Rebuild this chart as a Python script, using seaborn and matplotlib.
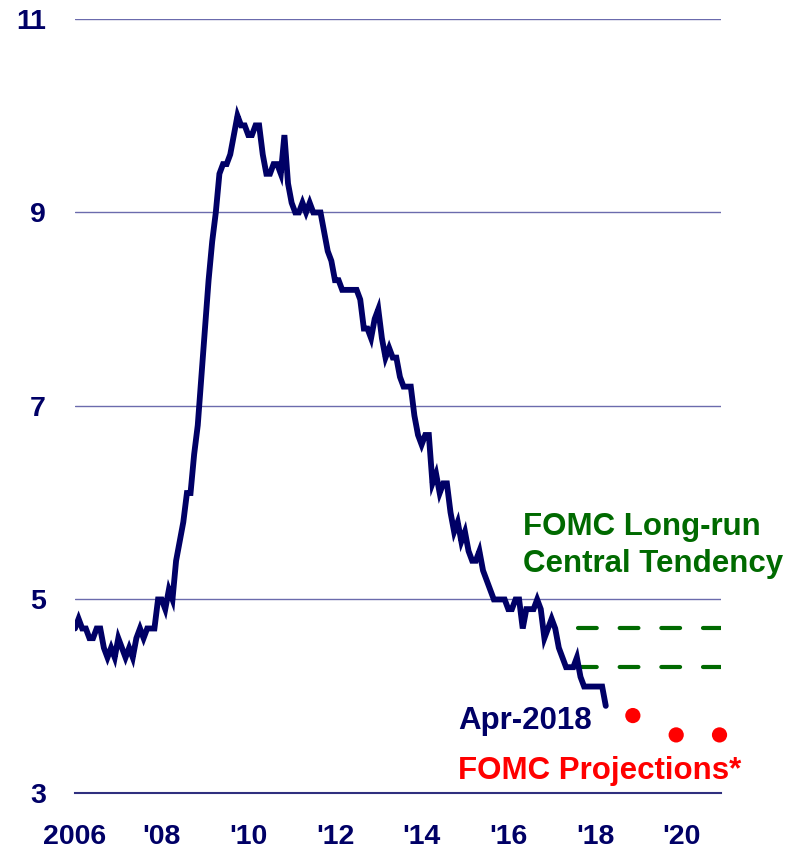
import numpy as np
import pandas as pd
import matplotlib
matplotlib.use("Agg")
import matplotlib.pyplot as plt
import seaborn as sns

# Civilian unemployment rate, monthly, Jan 2006 - Apr 2018 (percent)
unemployment = [
    4.7, 4.8, 4.7, 4.7, 4.6, 4.6, 4.7, 4.7, 4.5, 4.4, 4.5, 4.4,   # 2006
    4.6, 4.5, 4.4, 4.5, 4.4, 4.6, 4.7, 4.6, 4.7, 4.7, 4.7, 5.0,   # 2007
    5.0, 4.9, 5.1, 5.0, 5.4, 5.6, 5.8, 6.1, 6.1, 6.5, 6.8, 7.3,   # 2008
    7.8, 8.3, 8.7, 9.0, 9.4, 9.5, 9.5, 9.6, 9.8, 10.0, 9.9, 9.9,  # 2009
    9.8, 9.8, 9.9, 9.9, 9.6, 9.4, 9.4, 9.5, 9.5, 9.4, 9.8, 9.3,   # 2010
    9.1, 9.0, 9.0, 9.1, 9.0, 9.1, 9.0, 9.0, 9.0, 8.8, 8.6, 8.5,   # 2011
    8.3, 8.3, 8.2, 8.2, 8.2, 8.2, 8.2, 8.1, 7.8, 7.8, 7.7, 7.9,   # 2012
    8.0, 7.7, 7.5, 7.6, 7.5, 7.5, 7.3, 7.2, 7.2, 7.2, 6.9, 6.7,   # 2013
    6.6, 6.7, 6.7, 6.2, 6.3, 6.1, 6.2, 6.2, 5.9, 5.7, 5.8, 5.6,   # 2014
    5.7, 5.5, 5.4, 5.4, 5.5, 5.3, 5.2, 5.1, 5.0, 5.0, 5.0, 5.0,   # 2015
    4.9, 4.9, 5.0, 5.0, 4.7, 4.9, 4.9, 4.9, 5.0, 4.9, 4.6, 4.7,   # 2016
    4.8, 4.7, 4.5, 4.4, 4.3, 4.3, 4.3, 4.4, 4.2, 4.1, 4.1, 4.1,   # 2017
    4.1, 4.1, 4.1, 3.9,                                           # 2018
]
start_year = 2006

# FOMC median projections (Q4 of each year)
proj_years = [2018, 2019, 2020]
proj_values = [3.8, 3.6, 3.6]

# FOMC longer-run central tendency range
longrun_range = [4.3, 4.7]

x_ticks = [2006, 2008, 2010, 2012, 2014, 2016, 2018, 2020]
x_labels = ["2006", "'08", "'10", "'12", "'14", "'16", "'18", "'20"]
y_ticks = [3, 5, 7, 9, 11]

NAVY = "#000066"
GRID = "#6b6bad"
GREEN = "#006a00"
RED = "#ff0000"

sns.set_theme(style="white")
plt.rcParams["font.family"] = ["Liberation Sans", "DejaVu Sans"]
plt.rcParams["font.weight"] = "bold"

df = pd.DataFrame({
    "date": start_year + np.arange(len(unemployment)) / 12.0,
    "rate": unemployment,
})
proj = pd.DataFrame({
    "date": np.array(proj_years) + 10.5 / 12.0,
    "rate": proj_values,
})

fig = plt.figure(figsize=(8.02, 8.51), dpi=100)
ax = fig.add_axes([0.0935, 0.0682, 0.805, 0.9095])

for y in y_ticks[1:]:
    ax.axhline(y, color=GRID, lw=1.0, zorder=1)

sns.lineplot(data=df, x="date", y="rate", ax=ax, color=NAVY, lw=4.2,
             zorder=3, solid_joinstyle="miter")

for level in longrun_range:
    ax.plot([2017.6, 2020.9], [level, level], color=GREEN, lw=3.0,
            dashes=(4.5, 5.5), dash_capstyle="round", zorder=2)

sns.scatterplot(data=proj, x="date", y="rate", ax=ax, color=RED, s=120,
                edgecolor="none", zorder=4)
for coll in ax.collections:
    coll.set_clip_on(False)

ax.set_xlim(2006, 2020.9)
ax.set_ylim(3, 11)
ax.set_xticks(x_ticks)
ax.set_xticklabels(x_labels)
ax.set_yticks(y_ticks)
ax.set_yticklabels([str(v) for v in y_ticks])
ax.set_xlabel("")
ax.set_ylabel("")

for side in ["top", "right", "left"]:
    ax.spines[side].set_visible(False)
ax.spines["bottom"].set_color("#2f2f7f")
ax.spines["bottom"].set_linewidth(1.5)

ax.tick_params(axis="x", direction="out", length=8, width=1.5,
               color="#2f2f7f", pad=14.5, labelsize=20.5, labelcolor=NAVY)
ax.tick_params(axis="y", length=0, pad=21, labelsize=20.5, labelcolor=NAVY)
for lab in ax.get_xticklabels() + ax.get_yticklabels():
    lab.set_fontweight("bold")

ax.text(2016.35, 5.67, "FOMC Long-run", color=GREEN, fontsize=22.5,
        fontweight="bold", ha="left", va="baseline")
ax.text(2016.35, 5.28, "Central Tendency", color=GREEN, fontsize=22.5,
        fontweight="bold", ha="left", va="baseline")
ax.text(2014.85, 3.66, "Apr-2018", color=NAVY, fontsize=22.5,
        fontweight="bold", ha="left", va="baseline")
ax.text(2014.85, 3.145, "FOMC Projections*", color=RED, fontsize=22.5,
        fontweight="bold", ha="left", va="baseline")

fig.savefig("out.png", dpi=100)
